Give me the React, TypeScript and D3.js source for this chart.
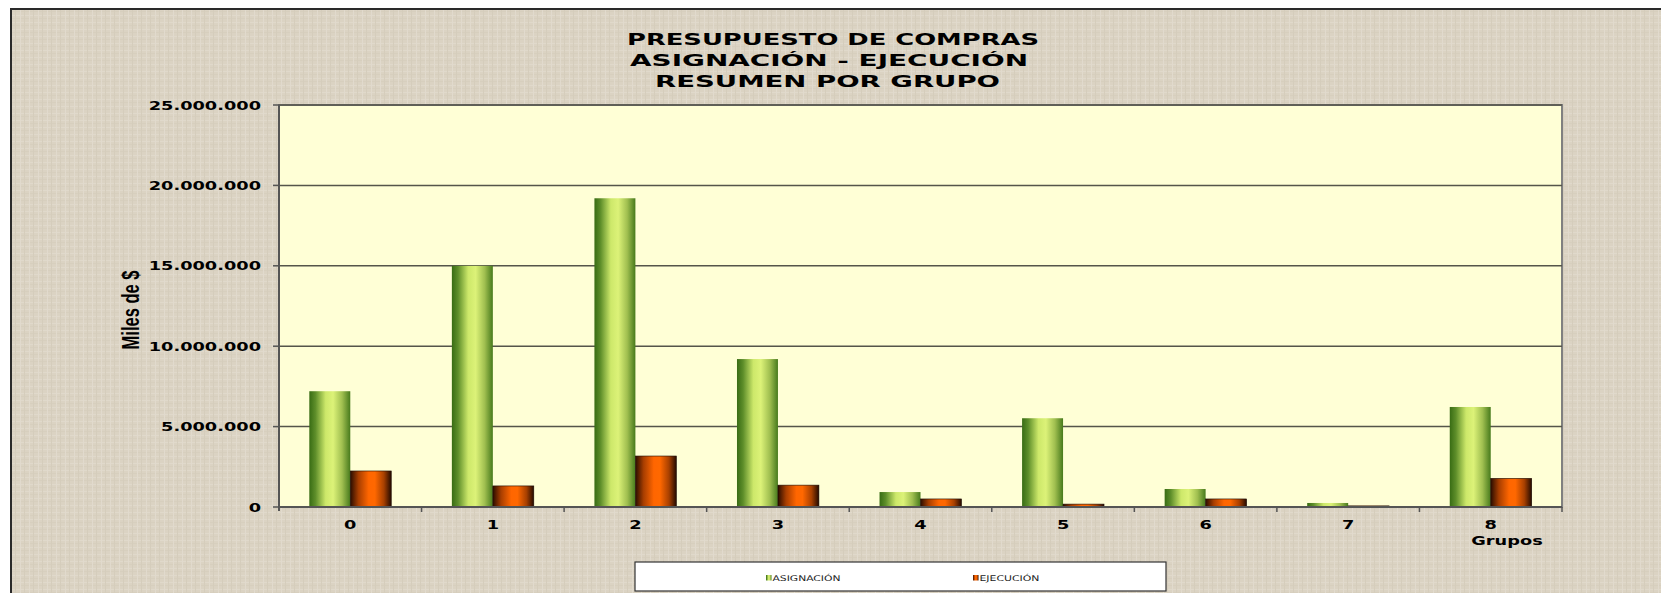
import React from "react";
import * as d3 from "d3";

const categories = ["0", "1", "2", "3", "4", "5", "6", "7", "8"];
const asignacion = [7200000, 15000000, 19200000, 9200000, 930000, 5520000, 1120000, 250000, 6220000];
const ejecucion = [2240000, 1310000, 3170000, 1360000, 500000, 180000, 500000, 70000, 1780000];
const series = ["ASIGNACIÓN", "EJECUCIÓN"];
const yTicks = [0, 5000000, 10000000, 15000000, 20000000, 25000000];
const titleLines = ["PRESUPUESTO DE COMPRAS", "ASIGNACIÓN - EJECUCIÓN", "RESUMEN POR GRUPO"];

const W = 1661;
const H = 593;
const SX = 1.42; // the chart is stretched sideways

const esLocale = d3.formatLocale({ decimal: ",", thousands: ".", grouping: [3], currency: ["$", ""] });
const fmt = esLocale.format(",d");

const App = () => {
  const left = 279, right = 1562, top = 105, bottom = 507;

  const x0 = d3.scaleBand().domain(categories).range([left, right]).padding(0);
  const x1 = d3.scaleBand().domain(series).range([0, x0.bandwidth()]).paddingInner(0).paddingOuter(0.74);
  const y = d3.scaleLinear().domain([0, 25000000]).range([bottom, top]);

  const values = [asignacion, ejecucion];
  const fills = ["url(#gradGreen)", "url(#gradOrange)"];
  const font = "'DejaVu Sans', Verdana, sans-serif";

  const titleX = [627, 630, 655];
  const titleLen = [412, 398, 345];

  return (
    <svg width={W} height={H} style={{ position: "absolute", left: 0, top: 0 }}>
      <defs>
        <linearGradient id="gradGreen" x1="0" x2="1" y1="0" y2="0">
          <stop offset="0%" stopColor="#386c14" />
          <stop offset="15%" stopColor="#5e8e2a" />
          <stop offset="40%" stopColor="#cde86a" />
          <stop offset="58%" stopColor="#dcf278" />
          <stop offset="80%" stopColor="#a0bf50" />
          <stop offset="100%" stopColor="#477a1c" />
        </linearGradient>
        <linearGradient id="gradOrange" x1="0" x2="1" y1="0" y2="0">
          <stop offset="0%" stopColor="#2a0c00" />
          <stop offset="20%" stopColor="#a83e00" />
          <stop offset="45%" stopColor="#ff6600" />
          <stop offset="60%" stopColor="#ff6800" />
          <stop offset="82%" stopColor="#a84000" />
          <stop offset="100%" stopColor="#240a00" />
        </linearGradient>
        <pattern id="linen" width="9" height="7" patternUnits="userSpaceOnUse">
          <rect width="9" height="7" fill="#dad2c2" />
          <rect x="0" y="1" width="9" height="1" fill="#e4ddd0" />
          <rect x="0" y="4" width="9" height="1" fill="#d3cab8" />
          <rect x="2" y="0" width="1" height="7" fill="#e5dfd3" />
          <rect x="6" y="0" width="1" height="7" fill="#d0c7b4" />
        </pattern>
      </defs>

      <rect width={W} height={H} fill="#ffffff" />
      <rect x={10} y={8} width={W} height={H} fill="url(#linen)" />
      <rect x={10} y={8} width={W} height={H} fill="#dcd4c5" opacity={0.45} />
      <line x1={10} x2={W} y1={9} y2={9} stroke="#2a2a2a" strokeWidth={2} />
      <line x1={11} x2={11} y1={8} y2={H} stroke="#2a2a2a" strokeWidth={2} />

      {titleLines.map((t, i) => (
        <text key={t} x={titleX[i]} y={45 + i * 21} textLength={titleLen[i]} lengthAdjust="spacingAndGlyphs"
          fontFamily={font} fontWeight="bold" fontSize={16.5} fill="#000">{t}</text>
      ))}

      {/* plot area */}
      <rect x={left} y={top} width={right - left} height={bottom - top} fill="#ffffd6" stroke="#808080" strokeWidth={2} />

      {yTicks.filter((t) => t > 0).map((t) => (
        <line key={t} x1={left} x2={right} y1={y(t)} y2={y(t)} stroke="#55554a" strokeWidth={1.5} />
      ))}

      {categories.map((c, ci) => (
        <g key={c} transform={`translate(${x0(c)},0)`}>
          {series.map((s, si) => {
            const v = values[si][ci];
            return (
              <rect key={s} x={x1(s)} y={y(v)} width={x1.bandwidth()} height={bottom - y(v)} fill={fills[si]}
                stroke={si === 1 ? "#1a0800" : "none"} strokeWidth={0.6} />
            );
          })}
        </g>
      ))}

      {/* axes */}
      <line x1={left} x2={left} y1={top} y2={bottom + 4} stroke="#555" strokeWidth={2} />
      <line x1={left} x2={right} y1={bottom} y2={bottom} stroke="#555" strokeWidth={2} />
      {yTicks.map((t) => (
        <g key={t}>
          <line x1={left - 6} x2={left} y1={y(t)} y2={y(t)} stroke="#555" strokeWidth={1.5} />
          <text transform={`translate(261,${y(t)}) scale(${SX},1)`} dy="0.36em" textAnchor="end"
            fontFamily={font} fontWeight="bold" fontSize={12.5} fill="#000">{fmt(t)}</text>
        </g>
      ))}
      {categories.map((c) => (
        <g key={c}>
          <line x1={x0(c)! + x0.bandwidth()} x2={x0(c)! + x0.bandwidth()} y1={bottom} y2={bottom + 5} stroke="#555" strokeWidth={1.5} />
          <text transform={`translate(${x0(c)! + x0.bandwidth() / 2},529) scale(${SX},1)`} textAnchor="middle"
            fontFamily={font} fontWeight="bold" fontSize={12.5} fill="#000">{c}</text>
        </g>
      ))}

      <text transform={`translate(1507,545) scale(${SX},1)`} textAnchor="middle"
        fontFamily={font} fontWeight="bold" fontSize={12.5} fill="#000">Grupos</text>

      <text transform={`translate(139,310) scale(${SX},1) rotate(-90)`} textAnchor="middle"
        fontFamily="'Liberation Sans', Arial, sans-serif" fontWeight="bold" fontSize={16.5} fill="#000">Miles de $</text>

      {/* legend */}
      <rect x={635} y={562} width={531} height={29} fill="#ffffff" stroke="#333" strokeWidth={1.2} />
      {series.map((s, si) => {
        const lx = si === 0 ? 766 : 973;
        return (
          <g key={s}>
            <rect x={lx} y={575} width={5.5} height={5.5} fill={fills[si]} />
            <text x={lx + 6.5} y={580.5} textLength={si === 0 ? 68 : 60} lengthAdjust="spacingAndGlyphs"
              fontFamily={font} fontSize={7.8} fill="#222">{s}</text>
          </g>
        );
      })}
    </svg>
  );
};

export default App;
